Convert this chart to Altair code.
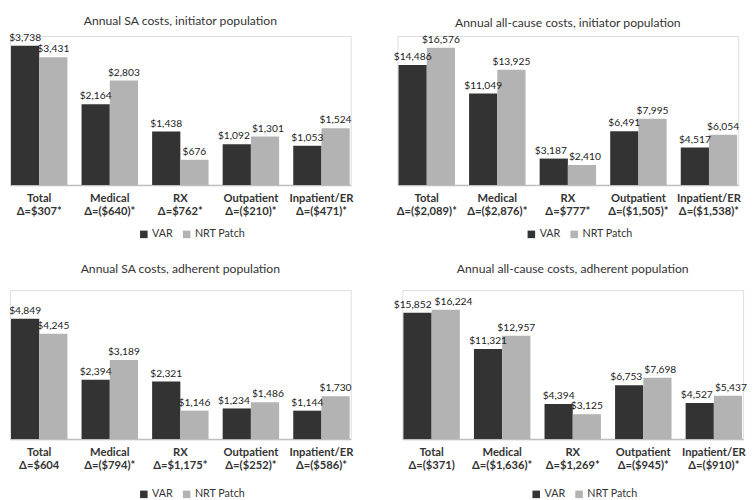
import altair as alt
import pandas as pd

categories = ["Total", "Medical", "RX", "Outpatient", "Inpatient/ER"]
groups = ["VAR", "NRT Patch"]
colors = ["#333333", "#b3b3b3"]

titles = [
    "Annual SA costs, initiator population",
    "Annual all-cause costs, initiator population",
    "Annual SA costs, adherent population",
    "Annual all-cause costs, adherent population",
]
var_vals = [
    [3738, 2164, 1438, 1092, 1053],
    [14486, 11049, 3187, 6491, 4517],
    [4849, 2394, 2321, 1234, 1144],
    [15852, 11321, 4394, 6753, 4527],
]
nrt_vals = [
    [3431, 2803, 676, 1301, 1524],
    [16576, 13925, 2410, 7995, 6054],
    [4245, 3189, 1146, 1486, 1730],
    [16224, 12957, 3125, 7698, 5437],
]
deltas = [
    ["Δ=$307*", "Δ=($640)*", "Δ=$762*", "Δ=($210)*", "Δ=($471)*"],
    ["Δ=($2,089)*", "Δ=($2,876)*", "Δ=$777*", "Δ=($1,505)*", "Δ=($1,538)*"],
    ["Δ=$604", "Δ=($794)*", "Δ=$1,175*", "Δ=($252)*", "Δ=($586)*"],
    ["Δ=($371)", "Δ=($1,636)*", "Δ=$1,269*", "Δ=($945)*", "Δ=($910)*"],
]
y_max = [4000, 18000, 6000, 18700]
title_offsets = [6, 6, 15, 15]
legend_y = [198, 198, 204, 204]

FONT = "Lato"
PW, PH = 350, 153


def panel(i):
    labels = [f"{c}|{d}" for c, d in zip(categories, deltas[i])]
    # nudge the two labels of a pair apart when both bars end at nearly the same height
    shift = []
    for g in groups:
        for v, n in zip(var_vals[i], nrt_vals[i]):
            gap = abs(v - n) / y_max[i] * PH
            if gap < 4:
                shift.append(-5 if g == "VAR" else 8)
            elif gap < 9:
                shift.append(-3 if g == "VAR" else 3)
            else:
                shift.append(0)
    df = pd.DataFrame({
        "label": labels * 2,
        "group": ["VAR"] * 5 + ["NRT Patch"] * 5,
        "value": var_vals[i] + nrt_vals[i],
        "shift": shift,
    })
    base = alt.Chart(df).encode(
        x=alt.X(
            "label:N", sort=labels, title=None,
            scale=alt.Scale(paddingInner=0.2, paddingOuter=0.015),
            axis=alt.Axis(
                labelExpr="split(datum.label, '|')", labelAngle=0, ticks=False,
                domainColor="#bfbfbf", domainWidth=1.5, labelFont=FONT,
                labelFontWeight="bold", labelFontSize=11.5, labelColor="#333333",
                labelPadding=8, labelLineHeight=13.5, labelLimit=0,
            ),
        ),
        xOffset=alt.XOffset("group:N", sort=groups,
                            scale=alt.Scale(paddingInner=0, paddingOuter=0)),
        y=alt.Y("value:Q", axis=None,
                 scale=alt.Scale(domain=[0, y_max[i]], nice=False)),
    )
    bars = base.mark_bar().encode(
        color=alt.Color(
            "group:N", sort=groups,
            scale=alt.Scale(domain=groups, range=colors),
            legend=alt.Legend(
                title=None, orient="none", legendX=132, legendY=legend_y[i],
                direction="horizontal", symbolType="square", symbolSize=60,
                symbolStrokeWidth=0, labelFont=FONT, labelFontSize=11,
                labelColor="#333333", columnPadding=8, labelOffset=3,
            ),
        )
    )
    text = base.mark_text(
        baseline="bottom", dy=-3, font=FONT, fontSize=10.5, color="#222222",
        dx=alt.expr("datum.shift"),
    ).encode(text=alt.Text("value:Q", format="$,.0f"))
    return alt.layer(bars, text).properties(
        width=PW, height=PH,
        title=alt.TitleParams(
            titles[i], font=FONT, fontSize=12.5, fontWeight="normal",
            color="#333333", offset=title_offsets[i], anchor="middle",
        ),
    )


res = dict(color="independent", x="independent", y="independent",
           xOffset="independent")

top = alt.hconcat(panel(0), panel(1), spacing=40).resolve_scale(**res) \
    .resolve_legend(color="independent")
bottom = alt.hconcat(panel(2), panel(3), spacing=40).resolve_scale(**res) \
    .resolve_legend(color="independent")

chart = alt.vconcat(top, bottom, spacing=23, padding=0).resolve_scale(**res) \
    .resolve_legend(color="independent") \
    .configure_view(stroke=None).configure(background="white")

chart.save("out.html", embed_options={"renderer": "svg", "actions": False})
